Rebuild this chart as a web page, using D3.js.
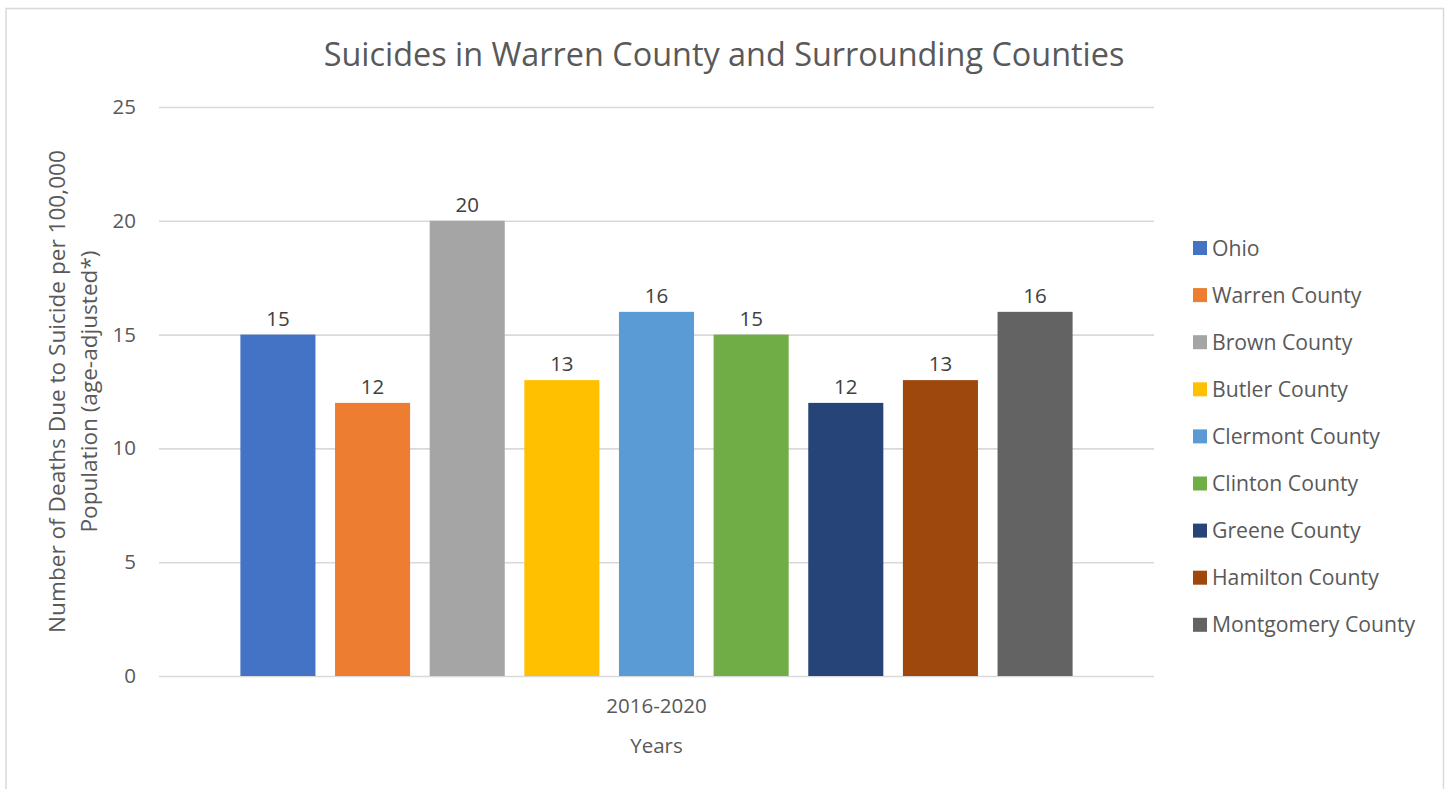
<!DOCTYPE html>
<html>
<head>
<meta charset="utf-8">
<script src="https://cdn.jsdelivr.net/npm/d3@7"></script>
<style>
  html, body { margin: 0; padding: 0; background: #fff; }
  svg { display: block; font-family: "Open Sans", "Liberation Sans", sans-serif; }
</style>
</head>
<body>
<svg id="chart" width="1449" height="789"></svg>
<script>
// Suicide rates per 100,000 (age-adjusted), 2016-2020
const categories = ["2016-2020"];
const seriesNames = ["Ohio", "Warren County", "Brown County", "Butler County", "Clermont County",
  "Clinton County", "Greene County", "Hamilton County", "Montgomery County"];
const seriesValues = [15, 12, 20, 13, 16, 15, 12, 13, 16];
const seriesColors = ["#4472c4", "#ed7d31", "#a5a5a5", "#ffc000", "#5b9bd5",
  "#70ad47", "#264478", "#9e480e", "#636363"];
const yTicks = [0, 5, 10, 15, 20, 25];

const svg = d3.select("#chart");
const plot = { left: 159, right: 1154, top: 107, bottom: 676 };
const FS = 20.5;

// outer chart frame
svg.append("rect")
  .attr("x", 6).attr("y", 8.5).attr("width", 1437.5).attr("height", 800)
  .attr("fill", "#fff").attr("stroke", "#d9d9d9").attr("stroke-width", 1.5);

const y = d3.scaleLinear().domain([0, 25]).range([plot.bottom, plot.top]);
const x0 = d3.scaleBand().domain(categories).range([plot.left, plot.right]).padding(0);
const x1 = d3.scaleBand().domain(seriesNames).range([0, x0.bandwidth()])
  .paddingInner(0.207).paddingOuter(0.86);

// gridlines and y-axis labels
const yAxis = d3.axisLeft(y).tickValues(yTicks).tickSize(-(plot.right - plot.left)).tickPadding(23);
const gy = svg.append("g").attr("transform", `translate(${plot.left},0)`).call(yAxis);
gy.select(".domain").remove();
gy.selectAll(".tick line").attr("stroke", "#d9d9d9").attr("stroke-width", 1.6);
gy.selectAll(".tick text").attr("fill", "#595959").attr("font-size", FS)
  .style("font-family", "'Open Sans', sans-serif");

// category axis
const xAxis = d3.axisBottom(x0).tickSize(0).tickPadding(22);
const gx = svg.append("g").attr("transform", `translate(0,${plot.bottom})`).call(xAxis);
gx.select(".domain").remove();
gx.selectAll(".tick text").attr("fill", "#595959").attr("font-size", FS)
  .style("font-family", "'Open Sans', sans-serif");

// bars
const group = svg.append("g").selectAll("g").data(categories).join("g")
  .attr("transform", d => `translate(${x0(d)},0)`);
const rows = seriesNames.map((n, i) => ({ name: n, value: seriesValues[i], color: seriesColors[i] }));
group.selectAll("rect").data(rows).join("rect")
  .attr("x", d => x1(d.name))
  .attr("y", d => y(d.value))
  .attr("width", x1.bandwidth())
  .attr("height", d => y(0) - y(d.value))
  .attr("fill", d => d.color);

// value labels
group.selectAll("text.val").data(rows).join("text")
  .attr("class", "val")
  .attr("x", d => x1(d.name) + x1.bandwidth() / 2)
  .attr("y", d => y(d.value) - 9)
  .attr("text-anchor", "middle")
  .attr("fill", "#404040").attr("font-size", FS)
  .text(d => d.value);

// title
svg.append("text")
  .attr("x", 724).attr("y", 66)
  .attr("text-anchor", "middle")
  .attr("fill", "#595959").attr("font-size", 32.4)
  .text("Suicides in Warren County and Surrounding Counties");

// y-axis title (two lines)
const yt = svg.append("text")
  .attr("transform", `translate(65,${(plot.top + plot.bottom) / 2}) rotate(-90)`)
  .attr("text-anchor", "middle")
  .attr("fill", "#595959").attr("font-size", 22.6);
yt.append("tspan").attr("x", 0).attr("dy", 0).text("Number of Deaths Due to Suicide per 100,000");
yt.append("tspan").attr("x", 0).attr("dy", 32).text("Population (age-adjusted*)");

// x-axis title
svg.append("text")
  .attr("x", (plot.left + plot.right) / 2).attr("y", 753)
  .attr("text-anchor", "middle")
  .attr("fill", "#595959").attr("font-size", FS)
  .text("Years");

// legend
const legend = svg.append("g").attr("transform", "translate(1193,248)");
const li = legend.selectAll("g").data(rows).join("g")
  .attr("transform", (d, i) => `translate(0,${i * 47.1})`);
li.append("rect").attr("x", 0).attr("y", -7).attr("width", 14).attr("height", 14)
  .attr("fill", d => d.color);
li.append("text").attr("x", 19).attr("y", 7.5)
  .attr("fill", "#595959").attr("font-size", 21.2)
  .text(d => d.name);
</script>
</body>
</html>
